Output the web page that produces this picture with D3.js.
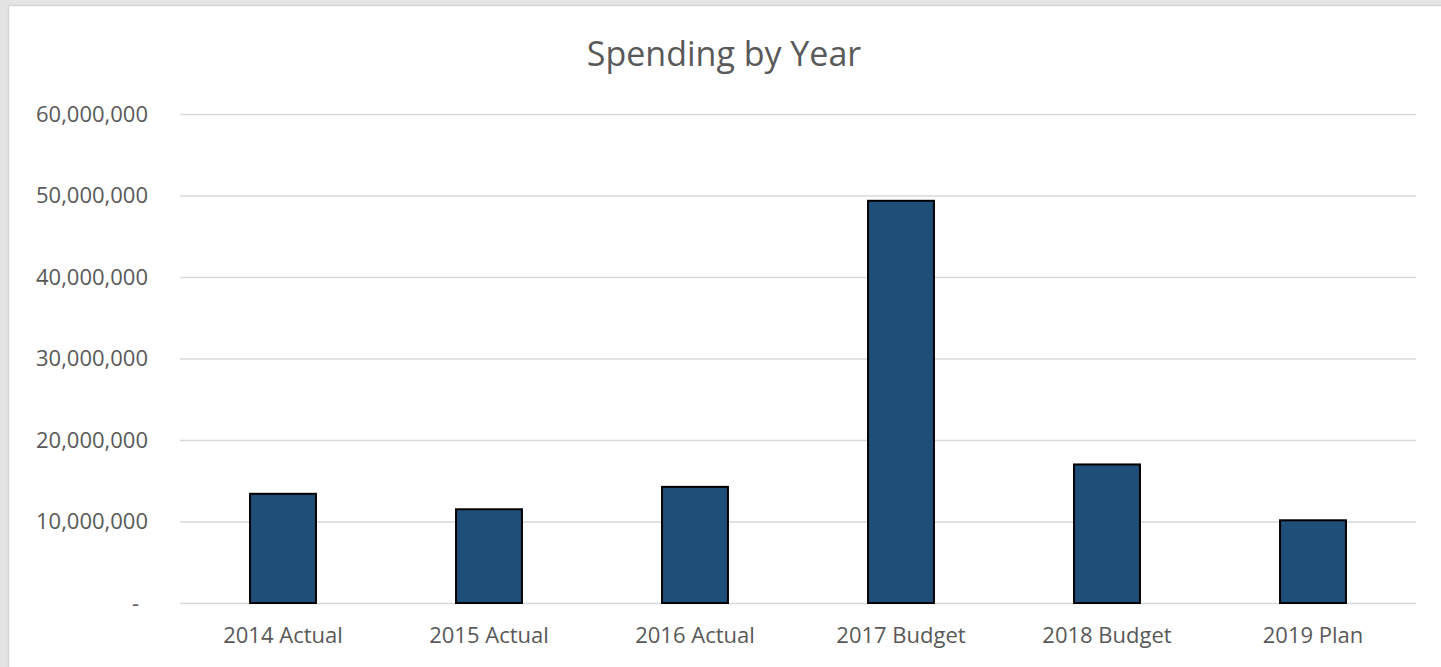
<!DOCTYPE html>
<html>
<head>
<meta charset="utf-8">
<script src="https://cdn.jsdelivr.net/npm/d3@7"></script>
<style>
  body { margin: 0; background: #e3e3e3; }
  svg { display: block; }
  text { font-family: "Open Sans", "Noto Sans", sans-serif; fill: #595959; }
</style>
</head>
<body>
<svg id="chart"></svg>
<script>
// data
const categories = ['2014 Actual', '2015 Actual', '2016 Actual', '2017 Budget', '2018 Budget', '2019 Plan'];
const spending = [13400000, 11500000, 14250000, 49350000, 17000000, 10150000];
const yTicks = [0, 10000000, 20000000, 30000000, 40000000, 50000000, 60000000];

const width = 1441, height = 667;
const margin = { top: 114, right: 25, bottom: 64, left: 180 };

const svg = d3.select('#chart')
    .attr('width', width)
    .attr('height', height);

// chart area (the spreadsheet shows round it)
svg.append('rect')
    .attr('x', 8.5).attr('y', 5.5)
    .attr('width', width).attr('height', height)
    .attr('fill', '#fff')
    .attr('stroke', '#d6d6d6')
    .attr('stroke-width', 1.5);

const plotW = width - margin.left - margin.right;
const plotH = height - margin.top - margin.bottom;

const chart = svg.append('g')
    .attr('transform', `translate(${margin.left},${margin.top})`);

const xScale = d3.scaleBand()
    .domain(categories)
    .range([0, plotW])
    .padding(0);

const yScale = d3.scaleLinear()
    .domain([0, 60000000])
    .range([plotH, 0]);

// gridlines
const yAxis = d3.axisLeft(yScale)
    .tickValues(yTicks)
    .tickSize(-plotW)
    .tickPadding(32)
    .tickFormat(d => d === 0 ? '-' : d3.format(',')(d));

const yAxisG = chart.append('g').attr('class', 'axis y-axis').call(yAxis);
yAxisG.select('.domain').remove();
yAxisG.selectAll('line').attr('stroke', '#d9d9d9').attr('stroke-width', 1.5);
yAxisG.selectAll('text')
    .attr('font-size', 22)
    .style('fill', '#595959')
    .attr('dx', d => d === 0 ? -9 : 0);

// bars
const barW = xScale.bandwidth() * 0.32;
chart.selectAll('.bar')
    .data(spending)
    .join('rect')
    .attr('class', 'bar')
    .attr('x', (d, i) => xScale(categories[i]) + (xScale.bandwidth() - barW) / 2)
    .attr('y', d => yScale(d))
    .attr('width', barW)
    .attr('height', d => yScale(0) - yScale(d))
    .attr('fill', '#1f4e79')
    .attr('stroke', '#000')
    .attr('stroke-width', 2);

// x axis labels
const xAxis = d3.axisBottom(xScale).tickSize(0).tickPadding(24);
const xAxisG = chart.append('g')
    .attr('class', 'axis x-axis')
    .attr('transform', `translate(0,${plotH})`)
    .call(xAxis);
xAxisG.select('.domain').remove();
xAxisG.selectAll('text')
    .attr('font-size', 22)
    .style('fill', '#595959');

// title
svg.append('text')
    .attr('x', 724)
    .attr('y', 66)
    .attr('text-anchor', 'middle')
    .attr('font-size', 34)
    .text('Spending by Year');
</script>
</body>
</html>
